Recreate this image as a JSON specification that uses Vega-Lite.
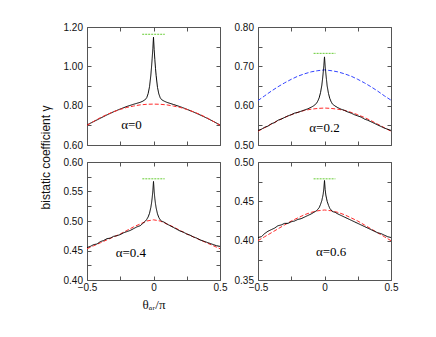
{
  "$schema": "https://vega.github.io/schema/vega-lite/v6.json",
  "padding": {"left": 38, "top": 21, "right": 5, "bottom": 5},
  "bounds": "flush",
  "columns": 2,
  "spacing": {"row": 17, "column": 38},
  "config": {
    "view": {"stroke": "#555", "strokeWidth": 1},
    "axis": {"domain": false, "grid": false, "tickSize": -4, "tickColor": "#555", "labelFont": "Liberation Sans", "labelFontSize": 10, "labelColor": "#111", "labelPadding": 8.5, "labelFlush": false, "labelOverlap": false},
    "axisX": {"labelPadding": 6.5},
    "text": {"font": "Liberation Serif", "fontSize": 13, "color": "#000"}
  },
  "datasets": {
    "curves": [
      {"panel":"a","series":"sim","x":-0.5,"y":0.702},{"panel":"a","series":"sim","x":-0.45,"y":0.719},{"panel":"a","series":"sim","x":-0.4,"y":0.736},{"panel":"a","series":"sim","x":-0.35,"y":0.753},{"panel":"a","series":"sim","x":-0.3,"y":0.769},{"panel":"a","series":"sim","x":-0.25,"y":0.783},{"panel":"a","series":"sim","x":-0.2,"y":0.796},{"panel":"a","series":"sim","x":-0.15,"y":0.807},{"panel":"a","series":"sim","x":-0.1,"y":0.817},{"panel":"a","series":"sim","x":-0.08,"y":0.823},{"panel":"a","series":"sim","x":-0.06,"y":0.832},{"panel":"a","series":"sim","x":-0.05,"y":0.842},{"panel":"a","series":"sim","x":-0.04,"y":0.862},{"panel":"a","series":"sim","x":-0.03,"y":0.896},{"panel":"a","series":"sim","x":-0.02,"y":0.955},{"panel":"a","series":"sim","x":-0.015,"y":0.995},{"panel":"a","series":"sim","x":-0.01,"y":1.04},{"panel":"a","series":"sim","x":-0.005,"y":1.09},{"panel":"a","series":"sim","x":0,"y":1.148},{"panel":"a","series":"sim","x":0.005,"y":1.085},{"panel":"a","series":"sim","x":0.01,"y":1.035},{"panel":"a","series":"sim","x":0.015,"y":0.99},{"panel":"a","series":"sim","x":0.02,"y":0.952},{"panel":"a","series":"sim","x":0.03,"y":0.893},{"panel":"a","series":"sim","x":0.04,"y":0.86},{"panel":"a","series":"sim","x":0.05,"y":0.841},{"panel":"a","series":"sim","x":0.06,"y":0.831},{"panel":"a","series":"sim","x":0.08,"y":0.823},{"panel":"a","series":"sim","x":0.1,"y":0.817},{"panel":"a","series":"sim","x":0.15,"y":0.806},{"panel":"a","series":"sim","x":0.2,"y":0.795},{"panel":"a","series":"sim","x":0.25,"y":0.782},{"panel":"a","series":"sim","x":0.3,"y":0.768},{"panel":"a","series":"sim","x":0.35,"y":0.753},{"panel":"a","series":"sim","x":0.4,"y":0.737},{"panel":"a","series":"sim","x":0.45,"y":0.72},{"panel":"a","series":"sim","x":0.5,"y":0.702},
      {"panel":"a","series":"theory","x":-0.5,"y":0.7},{"panel":"a","series":"theory","x":-0.45,"y":0.72},{"panel":"a","series":"theory","x":-0.4,"y":0.739},{"panel":"a","series":"theory","x":-0.35,"y":0.755},{"panel":"a","series":"theory","x":-0.3,"y":0.769},{"panel":"a","series":"theory","x":-0.25,"y":0.781},{"panel":"a","series":"theory","x":-0.2,"y":0.791},{"panel":"a","series":"theory","x":-0.15,"y":0.798},{"panel":"a","series":"theory","x":-0.1,"y":0.804},{"panel":"a","series":"theory","x":-0.05,"y":0.807},{"panel":"a","series":"theory","x":0,"y":0.808},{"panel":"a","series":"theory","x":0.05,"y":0.807},{"panel":"a","series":"theory","x":0.1,"y":0.804},{"panel":"a","series":"theory","x":0.15,"y":0.798},{"panel":"a","series":"theory","x":0.2,"y":0.791},{"panel":"a","series":"theory","x":0.25,"y":0.781},{"panel":"a","series":"theory","x":0.3,"y":0.769},{"panel":"a","series":"theory","x":0.35,"y":0.755},{"panel":"a","series":"theory","x":0.4,"y":0.739},{"panel":"a","series":"theory","x":0.45,"y":0.72},{"panel":"a","series":"theory","x":0.5,"y":0.7},
      {"panel":"a","series":"peak","x":-0.085,"y":1.163},{"panel":"a","series":"peak","x":0.085,"y":1.163},

      {"panel":"b","series":"other","x":-0.5,"y":0.613},{"panel":"b","series":"other","x":-0.45,"y":0.625},{"panel":"b","series":"other","x":-0.4,"y":0.637},{"panel":"b","series":"other","x":-0.35,"y":0.648},{"panel":"b","series":"other","x":-0.3,"y":0.658},{"panel":"b","series":"other","x":-0.25,"y":0.667},{"panel":"b","series":"other","x":-0.2,"y":0.675},{"panel":"b","series":"other","x":-0.15,"y":0.681},{"panel":"b","series":"other","x":-0.1,"y":0.686},{"panel":"b","series":"other","x":-0.05,"y":0.689},{"panel":"b","series":"other","x":0,"y":0.691},{"panel":"b","series":"other","x":0.05,"y":0.689},{"panel":"b","series":"other","x":0.1,"y":0.686},{"panel":"b","series":"other","x":0.15,"y":0.681},{"panel":"b","series":"other","x":0.2,"y":0.675},{"panel":"b","series":"other","x":0.25,"y":0.667},{"panel":"b","series":"other","x":0.3,"y":0.658},{"panel":"b","series":"other","x":0.35,"y":0.648},{"panel":"b","series":"other","x":0.4,"y":0.637},{"panel":"b","series":"other","x":0.45,"y":0.625},{"panel":"b","series":"other","x":0.5,"y":0.614},
      {"panel":"b","series":"theory","x":-0.5,"y":0.535},{"panel":"b","series":"theory","x":-0.45,"y":0.544},{"panel":"b","series":"theory","x":-0.4,"y":0.553},{"panel":"b","series":"theory","x":-0.35,"y":0.562},{"panel":"b","series":"theory","x":-0.3,"y":0.57},{"panel":"b","series":"theory","x":-0.25,"y":0.577},{"panel":"b","series":"theory","x":-0.2,"y":0.583},{"panel":"b","series":"theory","x":-0.15,"y":0.588},{"panel":"b","series":"theory","x":-0.1,"y":0.591},{"panel":"b","series":"theory","x":-0.05,"y":0.593},{"panel":"b","series":"theory","x":0,"y":0.594},{"panel":"b","series":"theory","x":0.05,"y":0.593},{"panel":"b","series":"theory","x":0.1,"y":0.591},{"panel":"b","series":"theory","x":0.15,"y":0.588},{"panel":"b","series":"theory","x":0.2,"y":0.583},{"panel":"b","series":"theory","x":0.25,"y":0.577},{"panel":"b","series":"theory","x":0.3,"y":0.57},{"panel":"b","series":"theory","x":0.35,"y":0.562},{"panel":"b","series":"theory","x":0.4,"y":0.553},{"panel":"b","series":"theory","x":0.45,"y":0.544},{"panel":"b","series":"theory","x":0.5,"y":0.535},
      {"panel":"b","series":"sim","x":-0.5,"y":0.537},{"panel":"b","series":"sim","x":-0.475,"y":0.54},{"panel":"b","series":"sim","x":-0.45,"y":0.545},{"panel":"b","series":"sim","x":-0.425,"y":0.548},{"panel":"b","series":"sim","x":-0.4,"y":0.554},{"panel":"b","series":"sim","x":-0.375,"y":0.557},{"panel":"b","series":"sim","x":-0.35,"y":0.563},{"panel":"b","series":"sim","x":-0.325,"y":0.566},{"panel":"b","series":"sim","x":-0.3,"y":0.57},{"panel":"b","series":"sim","x":-0.275,"y":0.574},{"panel":"b","series":"sim","x":-0.25,"y":0.577},{"panel":"b","series":"sim","x":-0.225,"y":0.581},{"panel":"b","series":"sim","x":-0.2,"y":0.583},{"panel":"b","series":"sim","x":-0.175,"y":0.586},{"panel":"b","series":"sim","x":-0.15,"y":0.589},{"panel":"b","series":"sim","x":-0.125,"y":0.592},{"panel":"b","series":"sim","x":-0.1,"y":0.596},{"panel":"b","series":"sim","x":-0.08,"y":0.6},{"panel":"b","series":"sim","x":-0.06,"y":0.606},{"panel":"b","series":"sim","x":-0.05,"y":0.612},{"panel":"b","series":"sim","x":-0.04,"y":0.62},{"panel":"b","series":"sim","x":-0.03,"y":0.633},{"panel":"b","series":"sim","x":-0.02,"y":0.652},{"panel":"b","series":"sim","x":-0.015,"y":0.667},{"panel":"b","series":"sim","x":-0.01,"y":0.683},{"panel":"b","series":"sim","x":-0.005,"y":0.702},{"panel":"b","series":"sim","x":0,"y":0.724},{"panel":"b","series":"sim","x":0.005,"y":0.7},{"panel":"b","series":"sim","x":0.01,"y":0.682},{"panel":"b","series":"sim","x":0.015,"y":0.666},{"panel":"b","series":"sim","x":0.02,"y":0.65},{"panel":"b","series":"sim","x":0.03,"y":0.631},{"panel":"b","series":"sim","x":0.04,"y":0.618},{"panel":"b","series":"sim","x":0.05,"y":0.61},{"panel":"b","series":"sim","x":0.06,"y":0.604},{"panel":"b","series":"sim","x":0.08,"y":0.599},{"panel":"b","series":"sim","x":0.1,"y":0.595},{"panel":"b","series":"sim","x":0.125,"y":0.591},{"panel":"b","series":"sim","x":0.15,"y":0.588},{"panel":"b","series":"sim","x":0.175,"y":0.584},{"panel":"b","series":"sim","x":0.2,"y":0.581},{"panel":"b","series":"sim","x":0.225,"y":0.577},{"panel":"b","series":"sim","x":0.25,"y":0.574},{"panel":"b","series":"sim","x":0.275,"y":0.571},{"panel":"b","series":"sim","x":0.3,"y":0.566},{"panel":"b","series":"sim","x":0.325,"y":0.563},{"panel":"b","series":"sim","x":0.35,"y":0.559},{"panel":"b","series":"sim","x":0.375,"y":0.555},{"panel":"b","series":"sim","x":0.4,"y":0.551},{"panel":"b","series":"sim","x":0.425,"y":0.547},{"panel":"b","series":"sim","x":0.45,"y":0.543},{"panel":"b","series":"sim","x":0.475,"y":0.54},{"panel":"b","series":"sim","x":0.5,"y":0.537},
      {"panel":"b","series":"peak","x":-0.082,"y":0.733},{"panel":"b","series":"peak","x":0.082,"y":0.733},

      {"panel":"c","series":"theory","x":-0.5,"y":0.453},{"panel":"c","series":"theory","x":-0.45,"y":0.458},{"panel":"c","series":"theory","x":-0.4,"y":0.463},{"panel":"c","series":"theory","x":-0.35,"y":0.468},{"panel":"c","series":"theory","x":-0.3,"y":0.473},{"panel":"c","series":"theory","x":-0.25,"y":0.478},{"panel":"c","series":"theory","x":-0.2,"y":0.484},{"panel":"c","series":"theory","x":-0.15,"y":0.49},{"panel":"c","series":"theory","x":-0.1,"y":0.495},{"panel":"c","series":"theory","x":-0.05,"y":0.5},{"panel":"c","series":"theory","x":0,"y":0.502},{"panel":"c","series":"theory","x":0.05,"y":0.5},{"panel":"c","series":"theory","x":0.1,"y":0.495},{"panel":"c","series":"theory","x":0.15,"y":0.49},{"panel":"c","series":"theory","x":0.2,"y":0.484},{"panel":"c","series":"theory","x":0.25,"y":0.478},{"panel":"c","series":"theory","x":0.3,"y":0.473},{"panel":"c","series":"theory","x":0.35,"y":0.468},{"panel":"c","series":"theory","x":0.4,"y":0.463},{"panel":"c","series":"theory","x":0.45,"y":0.458},{"panel":"c","series":"theory","x":0.5,"y":0.453},
      {"panel":"c","series":"sim","x":-0.5,"y":0.455},{"panel":"c","series":"sim","x":-0.475,"y":0.457},{"panel":"c","series":"sim","x":-0.45,"y":0.46},{"panel":"c","series":"sim","x":-0.425,"y":0.461},{"panel":"c","series":"sim","x":-0.4,"y":0.465},{"panel":"c","series":"sim","x":-0.375,"y":0.467},{"panel":"c","series":"sim","x":-0.35,"y":0.47},{"panel":"c","series":"sim","x":-0.325,"y":0.471},{"panel":"c","series":"sim","x":-0.3,"y":0.474},{"panel":"c","series":"sim","x":-0.275,"y":0.475},{"panel":"c","series":"sim","x":-0.25,"y":0.477},{"panel":"c","series":"sim","x":-0.225,"y":0.48},{"panel":"c","series":"sim","x":-0.2,"y":0.482},{"panel":"c","series":"sim","x":-0.175,"y":0.484},{"panel":"c","series":"sim","x":-0.15,"y":0.487},{"panel":"c","series":"sim","x":-0.125,"y":0.49},{"panel":"c","series":"sim","x":-0.1,"y":0.492},{"panel":"c","series":"sim","x":-0.08,"y":0.496},{"panel":"c","series":"sim","x":-0.06,"y":0.5},{"panel":"c","series":"sim","x":-0.05,"y":0.503},{"panel":"c","series":"sim","x":-0.04,"y":0.507},{"panel":"c","series":"sim","x":-0.03,"y":0.513},{"panel":"c","series":"sim","x":-0.02,"y":0.523},{"panel":"c","series":"sim","x":-0.015,"y":0.53},{"panel":"c","series":"sim","x":-0.01,"y":0.539},{"panel":"c","series":"sim","x":-0.005,"y":0.551},{"panel":"c","series":"sim","x":0,"y":0.567},{"panel":"c","series":"sim","x":0.005,"y":0.55},{"panel":"c","series":"sim","x":0.01,"y":0.538},{"panel":"c","series":"sim","x":0.015,"y":0.529},{"panel":"c","series":"sim","x":0.02,"y":0.522},{"panel":"c","series":"sim","x":0.03,"y":0.512},{"panel":"c","series":"sim","x":0.04,"y":0.506},{"panel":"c","series":"sim","x":0.05,"y":0.502},{"panel":"c","series":"sim","x":0.06,"y":0.5},{"panel":"c","series":"sim","x":0.08,"y":0.498},{"panel":"c","series":"sim","x":0.1,"y":0.495},{"panel":"c","series":"sim","x":0.125,"y":0.492},{"panel":"c","series":"sim","x":0.15,"y":0.489},{"panel":"c","series":"sim","x":0.175,"y":0.486},{"panel":"c","series":"sim","x":0.2,"y":0.483},{"panel":"c","series":"sim","x":0.225,"y":0.481},{"panel":"c","series":"sim","x":0.25,"y":0.478},{"panel":"c","series":"sim","x":0.275,"y":0.476},{"panel":"c","series":"sim","x":0.3,"y":0.473},{"panel":"c","series":"sim","x":0.325,"y":0.471},{"panel":"c","series":"sim","x":0.35,"y":0.468},{"panel":"c","series":"sim","x":0.375,"y":0.466},{"panel":"c","series":"sim","x":0.4,"y":0.464},{"panel":"c","series":"sim","x":0.425,"y":0.462},{"panel":"c","series":"sim","x":0.45,"y":0.46},{"panel":"c","series":"sim","x":0.475,"y":0.458},{"panel":"c","series":"sim","x":0.5,"y":0.457},
      {"panel":"c","series":"peak","x":-0.084,"y":0.5715},{"panel":"c","series":"peak","x":0.084,"y":0.5715},

      {"panel":"d","series":"theory","x":-0.5,"y":0.4},{"panel":"d","series":"theory","x":-0.45,"y":0.405},{"panel":"d","series":"theory","x":-0.4,"y":0.41},{"panel":"d","series":"theory","x":-0.35,"y":0.415},{"panel":"d","series":"theory","x":-0.3,"y":0.42},{"panel":"d","series":"theory","x":-0.25,"y":0.425},{"panel":"d","series":"theory","x":-0.2,"y":0.429},{"panel":"d","series":"theory","x":-0.15,"y":0.433},{"panel":"d","series":"theory","x":-0.1,"y":0.436},{"panel":"d","series":"theory","x":-0.05,"y":0.438},{"panel":"d","series":"theory","x":0,"y":0.439},{"panel":"d","series":"theory","x":0.05,"y":0.438},{"panel":"d","series":"theory","x":0.1,"y":0.436},{"panel":"d","series":"theory","x":0.15,"y":0.433},{"panel":"d","series":"theory","x":0.2,"y":0.429},{"panel":"d","series":"theory","x":0.25,"y":0.425},{"panel":"d","series":"theory","x":0.3,"y":0.42},{"panel":"d","series":"theory","x":0.35,"y":0.415},{"panel":"d","series":"theory","x":0.4,"y":0.41},{"panel":"d","series":"theory","x":0.45,"y":0.405},{"panel":"d","series":"theory","x":0.5,"y":0.4},
      {"panel":"d","series":"sim","x":-0.5,"y":0.404},{"panel":"d","series":"sim","x":-0.475,"y":0.405},{"panel":"d","series":"sim","x":-0.45,"y":0.409},{"panel":"d","series":"sim","x":-0.425,"y":0.412},{"panel":"d","series":"sim","x":-0.4,"y":0.414},{"panel":"d","series":"sim","x":-0.375,"y":0.416},{"panel":"d","series":"sim","x":-0.35,"y":0.419},{"panel":"d","series":"sim","x":-0.325,"y":0.42},{"panel":"d","series":"sim","x":-0.3,"y":0.422},{"panel":"d","series":"sim","x":-0.275,"y":0.422},{"panel":"d","series":"sim","x":-0.25,"y":0.424},{"panel":"d","series":"sim","x":-0.225,"y":0.425},{"panel":"d","series":"sim","x":-0.2,"y":0.427},{"panel":"d","series":"sim","x":-0.175,"y":0.428},{"panel":"d","series":"sim","x":-0.15,"y":0.43},{"panel":"d","series":"sim","x":-0.125,"y":0.432},{"panel":"d","series":"sim","x":-0.1,"y":0.434},{"panel":"d","series":"sim","x":-0.08,"y":0.436},{"panel":"d","series":"sim","x":-0.06,"y":0.438},{"panel":"d","series":"sim","x":-0.05,"y":0.44},{"panel":"d","series":"sim","x":-0.04,"y":0.442},{"panel":"d","series":"sim","x":-0.03,"y":0.446},{"panel":"d","series":"sim","x":-0.02,"y":0.451},{"panel":"d","series":"sim","x":-0.015,"y":0.455},{"panel":"d","series":"sim","x":-0.01,"y":0.459},{"panel":"d","series":"sim","x":-0.005,"y":0.466},{"panel":"d","series":"sim","x":0,"y":0.4765},{"panel":"d","series":"sim","x":0.005,"y":0.465},{"panel":"d","series":"sim","x":0.01,"y":0.458},{"panel":"d","series":"sim","x":0.015,"y":0.454},{"panel":"d","series":"sim","x":0.02,"y":0.45},{"panel":"d","series":"sim","x":0.03,"y":0.445},{"panel":"d","series":"sim","x":0.04,"y":0.441},{"panel":"d","series":"sim","x":0.05,"y":0.439},{"panel":"d","series":"sim","x":0.06,"y":0.437},{"panel":"d","series":"sim","x":0.08,"y":0.436},{"panel":"d","series":"sim","x":0.1,"y":0.434},{"panel":"d","series":"sim","x":0.125,"y":0.432},{"panel":"d","series":"sim","x":0.15,"y":0.43},{"panel":"d","series":"sim","x":0.175,"y":0.428},{"panel":"d","series":"sim","x":0.2,"y":0.426},{"panel":"d","series":"sim","x":0.225,"y":0.424},{"panel":"d","series":"sim","x":0.25,"y":0.422},{"panel":"d","series":"sim","x":0.275,"y":0.42},{"panel":"d","series":"sim","x":0.3,"y":0.418},{"panel":"d","series":"sim","x":0.325,"y":0.416},{"panel":"d","series":"sim","x":0.35,"y":0.414},{"panel":"d","series":"sim","x":0.375,"y":0.412},{"panel":"d","series":"sim","x":0.4,"y":0.41},{"panel":"d","series":"sim","x":0.425,"y":0.409},{"panel":"d","series":"sim","x":0.45,"y":0.407},{"panel":"d","series":"sim","x":0.475,"y":0.405},{"panel":"d","series":"sim","x":0.5,"y":0.404},
      {"panel":"d","series":"peak","x":-0.082,"y":0.4786},{"panel":"d","series":"peak","x":0.082,"y":0.4786}
    ],
    "labels": [
      {"panel":"a","x":-0.165,"y":0.70,"label":"α=0"},
      {"panel":"b","x":0.0,"y":0.543,"label":"α=0.2"},
      {"panel":"c","x":-0.17,"y":0.445,"label":"α=0.4"},
      {"panel":"d","x":0.05,"y":0.386,"label":"α=0.6"}
    ]
  },
  "concat": [
    {
      "width": 133, "height": 118,
      "layer": [
        {
          "data": {"name": "curves"},
          "transform": [{"filter": "datum.panel == 'a'"}],
          "mark": {"type": "line", "strokeWidth": 1},
          "encoding": {
            "x": {"field": "x", "type": "quantitative", "scale": {"domain": [-0.5, 0.5], "nice": false}, "axis": {"orient": "bottom", "values": [-0.5, -0.25, 0, 0.25, 0.5], "labels": false, "title": null}},
            "y": {"field": "y", "type": "quantitative", "scale": {"domain": [0.6, 1.2], "nice": false, "zero": false}, "axis": {"orient": "left", "values": [0.6, 0.7, 0.8, 0.9, 1.0, 1.1, 1.2], "labelExpr": "round(datum.value*10)%2==0 ? format(datum.value,'.2f') : ''", "title": "bistatic coefficient γ", "titleX": -42, "titleY": 130, "titleAngle": -90, "titleAlign": "center", "titleBaseline": "middle", "titleFont": "Liberation Sans", "titleFontSize": 12, "titleFontWeight": "normal", "titleColor": "#111"}},
            "color": {"field": "series", "type": "nominal", "scale": {"domain": ["sim", "theory", "peak", "other"], "range": ["#000000", "#ff2a2a", "#66cc33", "#3344ff"]}, "legend": null},
            "strokeDash": {"field": "series", "type": "nominal", "scale": {"domain": ["sim", "theory", "peak", "other"], "range": [[1, 0], [4, 2], [2, 1], [4, 2]]}, "legend": null}
          }
        },
        {
          "data": {"name": "labels"},
          "transform": [{"filter": "datum.panel == 'a'"}],
          "mark": {"type": "text", "align": "center", "baseline": "middle"},
          "encoding": {
            "x": {"field": "x", "type": "quantitative", "scale": {"domain": [-0.5, 0.5], "nice": false}, "axis": {"orient": "top", "values": [-0.5, -0.25, 0, 0.25, 0.5], "labels": false, "title": null}},
            "y": {"field": "y", "type": "quantitative", "scale": {"domain": [0.6, 1.2], "nice": false, "zero": false}, "axis": {"orient": "right", "values": [0.6, 0.7, 0.8, 0.9, 1.0, 1.1, 1.2], "labels": false, "title": null}},
            "text": {"field": "label"}
          }
        }
      ],
      "resolve": {"axis": {"x": "independent", "y": "independent"}}
    },
    {
      "width": 133, "height": 118,
      "layer": [
        {
          "data": {"name": "curves"},
          "transform": [{"filter": "datum.panel == 'b'"}],
          "mark": {"type": "line", "strokeWidth": 1},
          "encoding": {
            "x": {"field": "x", "type": "quantitative", "scale": {"domain": [-0.5, 0.5], "nice": false}, "axis": {"orient": "bottom", "values": [-0.5, -0.25, 0, 0.25, 0.5], "labels": false, "title": null}},
            "y": {"field": "y", "type": "quantitative", "scale": {"domain": [0.5, 0.8], "nice": false, "zero": false}, "axis": {"orient": "left", "values": [0.5, 0.55, 0.6, 0.65, 0.7, 0.75, 0.8], "labelExpr": "round(datum.value*20)%2==0 ? format(datum.value,'.2f') : ''", "title": null}},
            "color": {"field": "series", "type": "nominal", "scale": {"domain": ["sim", "theory", "peak", "other"], "range": ["#000000", "#ff2a2a", "#66cc33", "#3344ff"]}, "legend": null},
            "strokeDash": {"field": "series", "type": "nominal", "scale": {"domain": ["sim", "theory", "peak", "other"], "range": [[1, 0], [4, 2], [2, 1], [4, 2]]}, "legend": null}
          }
        },
        {
          "data": {"name": "labels"},
          "transform": [{"filter": "datum.panel == 'b'"}],
          "mark": {"type": "text", "align": "center", "baseline": "middle"},
          "encoding": {
            "x": {"field": "x", "type": "quantitative", "scale": {"domain": [-0.5, 0.5], "nice": false}, "axis": {"orient": "top", "values": [-0.5, -0.25, 0, 0.25, 0.5], "labels": false, "title": null}},
            "y": {"field": "y", "type": "quantitative", "scale": {"domain": [0.5, 0.8], "nice": false, "zero": false}, "axis": {"orient": "right", "values": [0.5, 0.55, 0.6, 0.65, 0.7, 0.75, 0.8], "labels": false, "title": null}},
            "text": {"field": "label"}
          }
        }
      ],
      "resolve": {"axis": {"x": "independent", "y": "independent"}}
    },
    {
      "width": 133, "height": 118,
      "layer": [
        {
          "data": {"name": "curves"},
          "transform": [{"filter": "datum.panel == 'c'"}],
          "mark": {"type": "line", "strokeWidth": 1},
          "encoding": {
            "x": {"field": "x", "type": "quantitative", "scale": {"domain": [-0.5, 0.5], "nice": false}, "axis": {"orient": "bottom", "values": [-0.5, -0.25, 0, 0.25, 0.5], "labelExpr": "round(datum.value*4)%2==0 ? (datum.value==0 ? '0' : format(datum.value,'.1f')) : ''", "title": "θₐᵣ/π", "titleFont": "Liberation Serif", "titleFontSize": 13, "titleFontWeight": "normal", "titleColor": "#111", "titleBaseline": "alphabetic", "titleY": 28}},
            "y": {"field": "y", "type": "quantitative", "scale": {"domain": [0.4, 0.6], "nice": false, "zero": false}, "axis": {"orient": "left", "values": [0.4, 0.425, 0.45, 0.475, 0.5, 0.525, 0.55, 0.575, 0.6], "labelExpr": "round(datum.value*40)%2==0 ? format(datum.value,'.2f') : ''", "title": null}},
            "color": {"field": "series", "type": "nominal", "scale": {"domain": ["sim", "theory", "peak", "other"], "range": ["#000000", "#ff2a2a", "#66cc33", "#3344ff"]}, "legend": null},
            "strokeDash": {"field": "series", "type": "nominal", "scale": {"domain": ["sim", "theory", "peak", "other"], "range": [[1, 0], [4, 2], [2, 1], [4, 2]]}, "legend": null}
          }
        },
        {
          "data": {"name": "labels"},
          "transform": [{"filter": "datum.panel == 'c'"}],
          "mark": {"type": "text", "align": "center", "baseline": "middle"},
          "encoding": {
            "x": {"field": "x", "type": "quantitative", "scale": {"domain": [-0.5, 0.5], "nice": false}, "axis": {"orient": "top", "values": [-0.5, -0.25, 0, 0.25, 0.5], "labels": false, "title": null}},
            "y": {"field": "y", "type": "quantitative", "scale": {"domain": [0.4, 0.6], "nice": false, "zero": false}, "axis": {"orient": "right", "values": [0.4, 0.425, 0.45, 0.475, 0.5, 0.525, 0.55, 0.575, 0.6], "labels": false, "title": null}},
            "text": {"field": "label"}
          }
        }
      ],
      "resolve": {"axis": {"x": "independent", "y": "independent"}}
    },
    {
      "width": 133, "height": 118,
      "layer": [
        {
          "data": {"name": "curves"},
          "transform": [{"filter": "datum.panel == 'd'"}],
          "mark": {"type": "line", "strokeWidth": 1},
          "encoding": {
            "x": {"field": "x", "type": "quantitative", "scale": {"domain": [-0.5, 0.5], "nice": false}, "axis": {"orient": "bottom", "values": [-0.5, -0.25, 0, 0.25, 0.5], "labelExpr": "round(datum.value*4)%2==0 ? (datum.value==0 ? '0' : format(datum.value,'.1f')) : ''", "title": null}},
            "y": {"field": "y", "type": "quantitative", "scale": {"domain": [0.35, 0.5], "nice": false, "zero": false}, "axis": {"orient": "left", "values": [0.35, 0.375, 0.4, 0.425, 0.45, 0.475, 0.5], "labelExpr": "round(datum.value*40)%2==0 ? format(datum.value,'.2f') : ''", "title": null}},
            "color": {"field": "series", "type": "nominal", "scale": {"domain": ["sim", "theory", "peak", "other"], "range": ["#000000", "#ff2a2a", "#66cc33", "#3344ff"]}, "legend": null},
            "strokeDash": {"field": "series", "type": "nominal", "scale": {"domain": ["sim", "theory", "peak", "other"], "range": [[1, 0], [4, 2], [2, 1], [4, 2]]}, "legend": null}
          }
        },
        {
          "data": {"name": "labels"},
          "transform": [{"filter": "datum.panel == 'd'"}],
          "mark": {"type": "text", "align": "center", "baseline": "middle"},
          "encoding": {
            "x": {"field": "x", "type": "quantitative", "scale": {"domain": [-0.5, 0.5], "nice": false}, "axis": {"orient": "top", "values": [-0.5, -0.25, 0, 0.25, 0.5], "labels": false, "title": null}},
            "y": {"field": "y", "type": "quantitative", "scale": {"domain": [0.35, 0.5], "nice": false, "zero": false}, "axis": {"orient": "right", "values": [0.35, 0.375, 0.4, 0.425, 0.45, 0.475, 0.5], "labels": false, "title": null}},
            "text": {"field": "label"}
          }
        }
      ],
      "resolve": {"axis": {"x": "independent", "y": "independent"}}
    }
  ]
}
